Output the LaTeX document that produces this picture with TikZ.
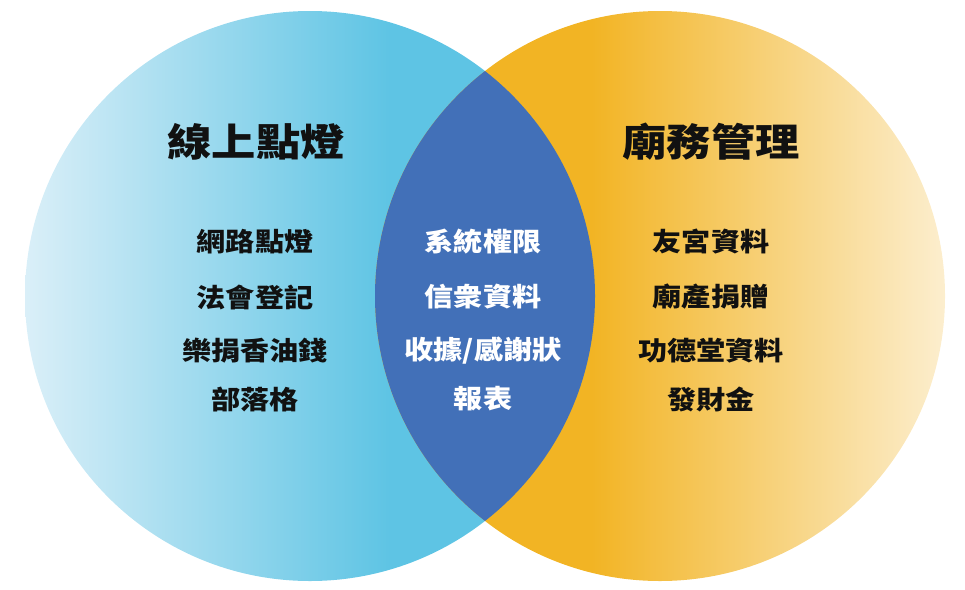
\documentclass[tikz,border=0pt]{standalone}
\usepackage{fontspec}
\newfontfamily\cjktitle[FakeStretch=1.15]{Noto Sans CJK TC}
\newfontfamily\cjkitem[FakeStretch=1.12]{Noto Sans CJK TC}
\definecolor{lbA}{HTML}{DAEFF8}
\definecolor{lbB}{HTML}{5EC4E4}
\definecolor{yeA}{HTML}{F2B424}
\definecolor{yeB}{HTML}{FCEECE}
\definecolor{lens}{HTML}{4270B8}
\definecolor{ink}{HTML}{111111}
\pgfdeclarehorizontalshading{leftsh}{100bp}{color(0bp)=(lbA); color(25bp)=(lbA); color(57bp)=(lbB); color(100bp)=(lbB)}
\pgfdeclarehorizontalshading{rightsh}{100bp}{color(0bp)=(yeA); color(44bp)=(yeA); color(75bp)=(yeB); color(100bp)=(yeB)}
\tikzset{
  titletxt/.style={font=\cjktitle\bfseries\fontsize{38.5}{44}\selectfont, text=ink, inner sep=0pt},
  itemtxt/.style={font=\cjkitem\bfseries\fontsize{26}{30}\selectfont, text=ink, inner sep=0pt},
  lenstxt/.style={itemtxt, text=white}
}
\begin{document}
\begin{tikzpicture}[x=1pt,y=-1pt]
\useasboundingbox (0,0) rectangle (965,589);
\coordinate (cl) at (310,296);
\coordinate (cr) at (660,296);
\shade[shading=leftsh] (cl) circle[radius=285pt];
\shade[shading=rightsh] (cr) circle[radius=285pt];
\begin{scope}
  \clip (cl) circle[radius=285pt];
  \fill[lens] (cr) circle[radius=285pt];
\end{scope}
% titles
\node[titletxt] (t1) at (256,142) {線上點燈};
\node[titletxt] (t2) at (711,142) {廟務管理};
% left column
\node[itemtxt] (l1) at (255,242) {網路點燈};
\node[itemtxt] (l2) at (255,297) {法會登記};
\node[itemtxt] (l3) at (255,351) {樂捐香油錢};
\node[itemtxt] (l4) at (255,399) {部落格};
% middle column
\node[lenstxt] (m1) at (483,242) {系統權限};
\node[lenstxt] (m2) at (483,297) {信衆資料};
\node[lenstxt] (m3) at (483,351) {收據/感謝狀};
\node[lenstxt] (m4) at (483,399) {報表};
% right column
\node[itemtxt] (r1) at (711,242) {友宮資料};
\node[itemtxt] (r2) at (711,297) {廟產捐贈};
\node[itemtxt] (r3) at (711,351) {功德堂資料};
\node[itemtxt] (r4) at (711,399) {發財金};
\end{tikzpicture}
\end{document}
